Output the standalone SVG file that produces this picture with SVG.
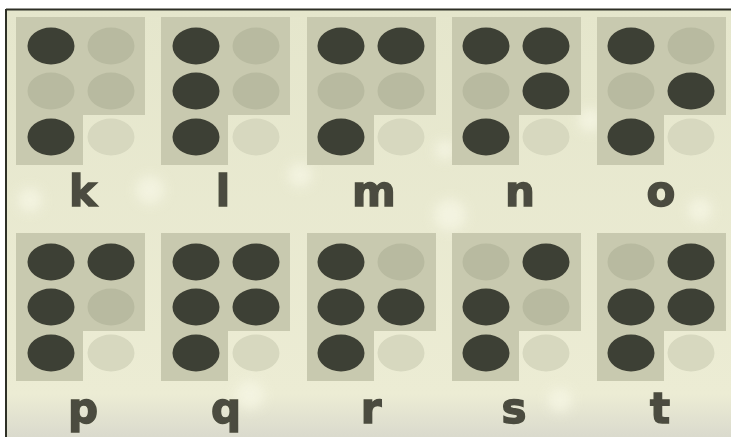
<svg xmlns="http://www.w3.org/2000/svg" width="731" height="437" viewBox="0 0 731 437">
<style>
.panel{fill:#c8c9af}
.on{fill:#3d3f34}
.off{fill:#b8baa0}
.offbg{fill:#d7d8bf}
.lbl{font-family:"DejaVu Sans",Verdana,sans-serif;font-weight:bold;font-size:42px;fill:#4b4c3f;stroke:#4b4c3f;stroke-width:1.4;text-anchor:middle}
</style>
<defs>
<linearGradient id="bg" x1="0" y1="0" x2="0" y2="1">
<stop offset="0" stop-color="#e5e6cc"/>
<stop offset="0.9" stop-color="#ececd4"/>
<stop offset="1" stop-color="#dadacd"/>
</linearGradient>
<filter id="soft" x="-5%" y="-5%" width="110%" height="110%"><feGaussianBlur stdDeviation="0.7"/></filter>
<filter id="bokeh"><feGaussianBlur stdDeviation="6"/></filter>
</defs>
<rect x="0" y="0" width="731" height="437" fill="#ffffff"/>
<rect x="6" y="9" width="725" height="428" fill="url(#bg)"/>
<g filter="url(#bokeh)" fill="#f6f6e4" opacity="0.8">
<circle cx="150" cy="190" r="14"/><circle cx="300" cy="175" r="12"/><circle cx="445" cy="150" r="10"/>
<circle cx="590" cy="120" r="12"/><circle cx="250" cy="395" r="14"/><circle cx="450" cy="215" r="16"/>
<circle cx="30" cy="200" r="12"/><circle cx="560" cy="400" r="12"/><circle cx="700" cy="210" r="12"/>
</g>
<line x1="6" y1="9.5" x2="731" y2="9.5" stroke="#2e3026" stroke-width="2"/>
<line x1="6" y1="9" x2="6" y2="437" stroke="#2e3026" stroke-width="2"/>
<g filter="url(#soft)">
<g id="cell-k">
<path class="panel" d="M16 17H145V115H83V165H16Z"/>
<ellipse class="on" cx="51" cy="46" rx="23.5" ry="18.5"/><ellipse class="off" cx="111" cy="46" rx="23.5" ry="18.5"/>
<ellipse class="off" cx="51" cy="91" rx="23.5" ry="18.5"/><ellipse class="off" cx="111" cy="91" rx="23.5" ry="18.5"/>
<ellipse class="on" cx="51" cy="137" rx="23.5" ry="18.5"/><ellipse class="offbg" cx="111" cy="137" rx="23.5" ry="18.5"/>
<text class="lbl" x="83" y="206">k</text>
</g>
<g id="cell-l">
<path class="panel" d="M161 17H290V115H228V165H161Z"/>
<ellipse class="on" cx="196" cy="46" rx="23.5" ry="18.5"/><ellipse class="off" cx="256" cy="46" rx="23.5" ry="18.5"/>
<ellipse class="on" cx="196" cy="91" rx="23.5" ry="18.5"/><ellipse class="off" cx="256" cy="91" rx="23.5" ry="18.5"/>
<ellipse class="on" cx="196" cy="137" rx="23.5" ry="18.5"/><ellipse class="offbg" cx="256" cy="137" rx="23.5" ry="18.5"/>
<text class="lbl" x="223" y="206">l</text>
</g>
<g id="cell-m">
<path class="panel" d="M307 17H436V115H374V165H307Z"/>
<ellipse class="on" cx="341" cy="46" rx="23.5" ry="18.5"/><ellipse class="on" cx="401" cy="46" rx="23.5" ry="18.5"/>
<ellipse class="off" cx="341" cy="91" rx="23.5" ry="18.5"/><ellipse class="off" cx="401" cy="91" rx="23.5" ry="18.5"/>
<ellipse class="on" cx="341" cy="137" rx="23.5" ry="18.5"/><ellipse class="offbg" cx="401" cy="137" rx="23.5" ry="18.5"/>
<text class="lbl" x="374" y="206">m</text>
</g>
<g id="cell-n">
<path class="panel" d="M452 17H581V115H519V165H452Z"/>
<ellipse class="on" cx="486" cy="46" rx="23.5" ry="18.5"/><ellipse class="on" cx="546" cy="46" rx="23.5" ry="18.5"/>
<ellipse class="off" cx="486" cy="91" rx="23.5" ry="18.5"/><ellipse class="on" cx="546" cy="91" rx="23.5" ry="18.5"/>
<ellipse class="on" cx="486" cy="137" rx="23.5" ry="18.5"/><ellipse class="offbg" cx="546" cy="137" rx="23.5" ry="18.5"/>
<text class="lbl" x="520" y="206">n</text>
</g>
<g id="cell-o">
<path class="panel" d="M597 17H726V115H664V165H597Z"/>
<ellipse class="on" cx="631" cy="46" rx="23.5" ry="18.5"/><ellipse class="off" cx="691" cy="46" rx="23.5" ry="18.5"/>
<ellipse class="off" cx="631" cy="91" rx="23.5" ry="18.5"/><ellipse class="on" cx="691" cy="91" rx="23.5" ry="18.5"/>
<ellipse class="on" cx="631" cy="137" rx="23.5" ry="18.5"/><ellipse class="offbg" cx="691" cy="137" rx="23.5" ry="18.5"/>
<text class="lbl" x="661" y="206">o</text>
</g>
<g id="cell-p">
<path class="panel" d="M16 233H145V331H83V381H16Z"/>
<ellipse class="on" cx="51" cy="262" rx="23.5" ry="18.5"/><ellipse class="on" cx="111" cy="262" rx="23.5" ry="18.5"/>
<ellipse class="on" cx="51" cy="307" rx="23.5" ry="18.5"/><ellipse class="off" cx="111" cy="307" rx="23.5" ry="18.5"/>
<ellipse class="on" cx="51" cy="353" rx="23.5" ry="18.5"/><ellipse class="offbg" cx="111" cy="353" rx="23.5" ry="18.5"/>
<text class="lbl" x="83" y="423">p</text>
</g>
<g id="cell-q">
<path class="panel" d="M161 233H290V331H228V381H161Z"/>
<ellipse class="on" cx="196" cy="262" rx="23.5" ry="18.5"/><ellipse class="on" cx="256" cy="262" rx="23.5" ry="18.5"/>
<ellipse class="on" cx="196" cy="307" rx="23.5" ry="18.5"/><ellipse class="on" cx="256" cy="307" rx="23.5" ry="18.5"/>
<ellipse class="on" cx="196" cy="353" rx="23.5" ry="18.5"/><ellipse class="offbg" cx="256" cy="353" rx="23.5" ry="18.5"/>
<text class="lbl" x="226" y="423">q</text>
</g>
<g id="cell-r">
<path class="panel" d="M307 233H436V331H374V381H307Z"/>
<ellipse class="on" cx="341" cy="262" rx="23.5" ry="18.5"/><ellipse class="off" cx="401" cy="262" rx="23.5" ry="18.5"/>
<ellipse class="on" cx="341" cy="307" rx="23.5" ry="18.5"/><ellipse class="on" cx="401" cy="307" rx="23.5" ry="18.5"/>
<ellipse class="on" cx="341" cy="353" rx="23.5" ry="18.5"/><ellipse class="offbg" cx="401" cy="353" rx="23.5" ry="18.5"/>
<text class="lbl" x="371" y="423">r</text>
</g>
<g id="cell-s">
<path class="panel" d="M452 233H581V331H519V381H452Z"/>
<ellipse class="off" cx="486" cy="262" rx="23.5" ry="18.5"/><ellipse class="on" cx="546" cy="262" rx="23.5" ry="18.5"/>
<ellipse class="on" cx="486" cy="307" rx="23.5" ry="18.5"/><ellipse class="off" cx="546" cy="307" rx="23.5" ry="18.5"/>
<ellipse class="on" cx="486" cy="353" rx="23.5" ry="18.5"/><ellipse class="offbg" cx="546" cy="353" rx="23.5" ry="18.5"/>
<text class="lbl" x="514" y="423">s</text>
</g>
<g id="cell-t">
<path class="panel" d="M597 233H726V331H664V381H597Z"/>
<ellipse class="off" cx="631" cy="262" rx="23.5" ry="18.5"/><ellipse class="on" cx="691" cy="262" rx="23.5" ry="18.5"/>
<ellipse class="on" cx="631" cy="307" rx="23.5" ry="18.5"/><ellipse class="on" cx="691" cy="307" rx="23.5" ry="18.5"/>
<ellipse class="on" cx="631" cy="353" rx="23.5" ry="18.5"/><ellipse class="offbg" cx="691" cy="353" rx="23.5" ry="18.5"/>
<text class="lbl" x="660" y="423">t</text>
</g>
</g>
</svg>
